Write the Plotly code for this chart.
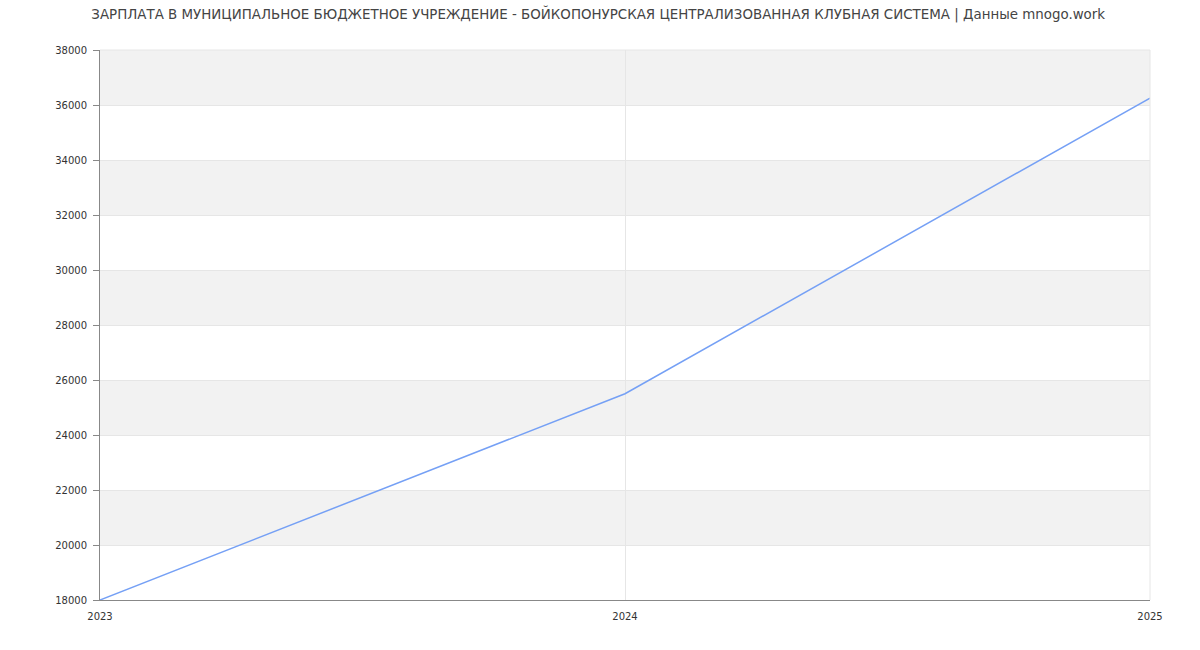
import plotly.graph_objects as go

years = [2023, 2024, 2025]
salaries = [18000, 25500, 36250]
y_ticks = [18000, 20000, 22000, 24000, 26000, 28000, 30000, 32000, 34000, 36000, 38000]
band_starts = [20000, 24000, 28000, 32000, 36000]
title = "ЗАРПЛАТА В МУНИЦИПАЛЬНОЕ БЮДЖЕТНОЕ УЧРЕЖДЕНИЕ - БОЙКОПОНУРСКАЯ ЦЕНТРАЛИЗОВАННАЯ КЛУБНАЯ СИСТЕМА | Данные mnogo.work"

fig = go.Figure()
fig.add_trace(go.Scatter(x=years, y=salaries, mode="lines",
                         line=dict(color="#75a0f5", width=1.5),
                         hoverinfo="x+y"))

shapes = [dict(type="rect", xref="paper", yref="y", x0=0, x1=1, y0=b, y1=b + 2000,
               fillcolor="#f2f2f2", line=dict(width=0), layer="below") for b in band_starts]

fig.update_layout(
    width=1200, height=650,
    margin=dict(l=100, r=50, t=50, b=50),
    paper_bgcolor="white", plot_bgcolor="white",
    font=dict(family="DejaVu Sans", color="#333", size=11),
    title=dict(text=title, x=0.4985, xanchor="center", xref="container",
               y=1 - 14 / 650, yref="container", yanchor="middle",
               font=dict(size=13.4, color="#444")),
    showlegend=False,
    shapes=shapes,
    xaxis=dict(range=[2023, 2025], tickvals=years, ticktext=[str(y) for y in years],
               showgrid=True, gridcolor="#e6e6e6", gridwidth=1,
               showline=True, linecolor="#888", linewidth=1,
               ticks="", zeroline=False, tickfont=dict(size=10),
               ticklabelstandoff=7),
    yaxis=dict(range=[18000, 38000], tickvals=y_ticks, ticktext=[str(v) for v in y_ticks],
               showgrid=True, gridcolor="#e6e6e6", gridwidth=1,
               showline=True, linecolor="#888", linewidth=1,
               ticks="outside", ticklen=6, tickcolor="#888",
               zeroline=False, tickfont=dict(size=10),
               ticklabelstandoff=4),
)
fig.add_shape(type="line", xref="paper", yref="paper", x0=1, x1=1, y0=0, y1=1,
              line=dict(color="#e6e6e6", width=1))
fig.add_shape(type="line", xref="paper", yref="paper", x0=0, x1=1, y0=1, y1=1,
              line=dict(color="#e6e6e6", width=1))

fig.write_html("out.html", config={"displayModeBar": False},
               post_script="document.body.style.margin='0';")
